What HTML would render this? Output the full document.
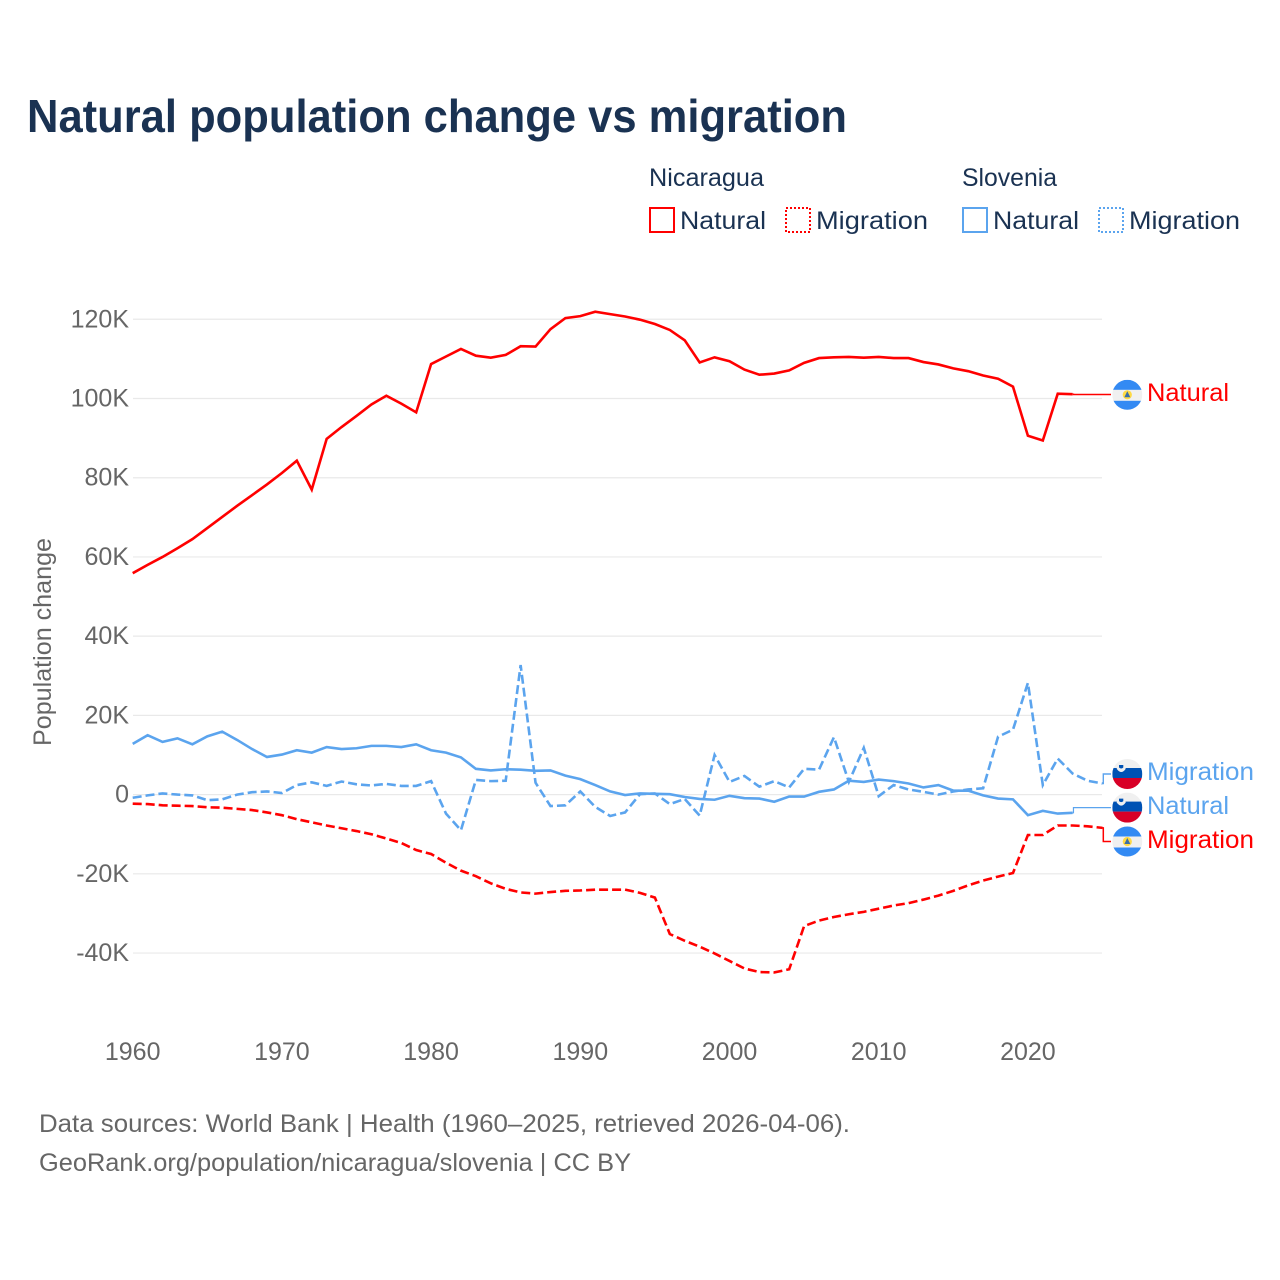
<!DOCTYPE html>
<html lang="en">
<head>
<meta charset="utf-8">
<title>Natural population change vs migration</title>
<style>
html,body{margin:0;padding:0;background:#fff;width:1280px;height:1280px;overflow:hidden}
svg{display:block}
text{font-family:"Liberation Sans",sans-serif}
</style>
</head>
<body>
<svg id="chart" xmlns="http://www.w3.org/2000/svg" width="1280" height="1280" viewBox="0 0 1280 1280">
  <defs>
    <clipPath id="flag-clip"><circle cx="0" cy="0" r="15"/></clipPath>
  </defs>
  <rect width="1280" height="1280" fill="#fff"/>
  <text x="27" y="132" font-size="46" font-weight="700" fill="#1a3252" textLength="820" lengthAdjust="spacingAndGlyphs">Natural population change vs migration</text>

  <g font-size="25" fill="#1a3252">
    <text x="649" y="186" textLength="115" lengthAdjust="spacingAndGlyphs">Nicaragua</text>
    <text x="962" y="186" textLength="95" lengthAdjust="spacingAndGlyphs">Slovenia</text>
    <rect x="650" y="208" width="24" height="24" fill="none" stroke="#ff0000" stroke-width="2"/>
    <text x="680" y="229" textLength="86" lengthAdjust="spacingAndGlyphs">Natural</text>
    <rect x="786" y="208" width="24" height="24" fill="none" stroke="#ff0000" stroke-width="2" stroke-dasharray="2 2"/>
    <text x="816" y="229" textLength="112" lengthAdjust="spacingAndGlyphs">Migration</text>
    <rect x="963" y="208" width="24" height="24" fill="none" stroke="#5ba4ee" stroke-width="2"/>
    <text x="993" y="229" textLength="86" lengthAdjust="spacingAndGlyphs">Natural</text>
    <rect x="1099" y="208" width="24" height="24" fill="none" stroke="#5ba4ee" stroke-width="2" stroke-dasharray="2 2"/>
    <text x="1129" y="229" textLength="111" lengthAdjust="spacingAndGlyphs">Migration</text>
  </g>

  <g id="grid"></g>
  <g id="yticks"></g>
  <g id="xticks"></g>
  <text transform="translate(51,746) rotate(-90)" x="0" y="0" font-size="25" fill="#666" textLength="208" lengthAdjust="spacingAndGlyphs">Population change</text>
  <g id="connectors"></g>
  <g id="series"></g>

  <g transform="translate(1127.3,394.8)">
    <g clip-path="url(#flag-clip)">
      <rect x="-15" y="-15" width="30" height="30" fill="#f0f0f0"/>
      <rect x="-15" y="-15" width="30" height="10" fill="#338af3"/>
      <rect x="-15" y="6" width="30" height="10" fill="#338af3"/>
      <circle cx="0" cy="0" r="4.6" fill="#ffda44"/>
      <path d="M-3 2.5 L0 -3.5 L3 2.5 Z" fill="#3a6ea8"/>
    </g>
  </g>
  <g transform="translate(1127.3,774)">
    <g clip-path="url(#flag-clip)">
      <rect x="-15" y="-15" width="30" height="30" fill="#f0f0f0"/>
      <rect x="-15" y="-6" width="30" height="10" fill="#0052b4"/>
      <rect x="-15" y="4" width="30" height="11" fill="#d80027"/>
      <path d="M-10.5 -9 H-1.7 V-5 Q-6 1 -10.5 -5 Z" fill="#f0f0f0"/>
      <path d="M-8.3 -9 H-4 V-6.5 Q-6 -4.5 -8.3 -6.5 Z" fill="#0052b4"/>
    </g>
  </g>
  <g transform="translate(1127.3,807.6)">
    <g clip-path="url(#flag-clip)">
      <rect x="-15" y="-15" width="30" height="30" fill="#f0f0f0"/>
      <rect x="-15" y="-6" width="30" height="10" fill="#0052b4"/>
      <rect x="-15" y="4" width="30" height="11" fill="#d80027"/>
      <path d="M-10.5 -9 H-1.7 V-5 Q-6 1 -10.5 -5 Z" fill="#f0f0f0"/>
      <path d="M-8.3 -9 H-4 V-6.5 Q-6 -4.5 -8.3 -6.5 Z" fill="#0052b4"/>
    </g>
  </g>
  <g transform="translate(1127.3,841.5)">
    <g clip-path="url(#flag-clip)">
      <rect x="-15" y="-15" width="30" height="30" fill="#f0f0f0"/>
      <rect x="-15" y="-15" width="30" height="10" fill="#338af3"/>
      <rect x="-15" y="6" width="30" height="10" fill="#338af3"/>
      <circle cx="0" cy="0" r="4.6" fill="#ffda44"/>
      <path d="M-3 2.5 L0 -3.5 L3 2.5 Z" fill="#3a6ea8"/>
    </g>
  </g>

  <g font-size="25">
    <text x="1147" y="401" fill="#ff0000" textLength="82" lengthAdjust="spacingAndGlyphs">Natural</text>
    <text x="1147" y="780" fill="#5ba4ee" textLength="107" lengthAdjust="spacingAndGlyphs">Migration</text>
    <text x="1147" y="814" fill="#5ba4ee" textLength="82" lengthAdjust="spacingAndGlyphs">Natural</text>
    <text x="1147" y="848" fill="#ff0000" textLength="107" lengthAdjust="spacingAndGlyphs">Migration</text>
  </g>

  <g font-size="25" fill="#666">
    <text x="39" y="1132" textLength="811" lengthAdjust="spacingAndGlyphs">Data sources: World Bank | Health (1960–2025, retrieved 2026-04-06).</text>
    <text x="39" y="1171" textLength="592" lengthAdjust="spacingAndGlyphs">GeoRank.org/population/nicaragua/slovenia | CC BY</text>
  </g>
</svg>
<script>
const years = [];
for (let yr = 1960; yr <= 2025; yr++) years.push(yr);
const yTickValues = [-40, -20, 0, 20, 40, 60, 80, 100, 120];
const yTickLabels = ["-40K", "-20K", "0", "20K", "40K", "60K", "80K", "100K", "120K"];
const xTickValues = [1960, 1970, 1980, 1990, 2000, 2010, 2020];
const xTickLabels = ["1960", "1970", "1980", "1990", "2000", "2010", "2020"];
const nicaraguaNatural = [55.9,58,60,62.2,64.5,67.3,70.1,72.9,75.6,78.3,81.2,84.3,77,89.8,92.8,95.6,98.5,100.7,98.7,96.5,108.7,110.6,112.5,110.8,110.3,111,113.2,113.1,117.5,120.3,120.8,121.9,121.3,120.7,119.9,118.8,117.3,114.7,109.1,110.4,109.4,107.3,106,106.3,107.1,109,110.2,110.4,110.5,110.3,110.5,110.2,110.2,109.2,108.6,107.6,106.9,105.8,105,103,90.6,89.4,101.2,101.1,null,null];
const nicaraguaMigration = [-2.3,-2.4,-2.7,-2.8,-2.9,-3.2,-3.3,-3.6,-3.9,-4.5,-5.2,-6.2,-7,-7.8,-8.5,-9.2,-10,-11.1,-12.2,-14,-15,-17.2,-19.2,-20.6,-22.4,-23.8,-24.7,-25,-24.6,-24.3,-24.2,-24,-24,-24,-24.8,-26,-35.2,-36.9,-38.4,-40.1,-42,-43.9,-44.8,-44.9,-44.1,-33.2,-31.8,-30.9,-30.2,-29.6,-28.8,-28,-27.4,-26.5,-25.5,-24.3,-22.9,-21.7,-20.7,-19.8,-10.2,-10.2,-7.8,-7.8,-8,-8.4];
const sloveniaNatural = [12.8,15,13.3,14.2,12.7,14.7,15.9,13.8,11.5,9.5,10.1,11.2,10.6,12,11.5,11.7,12.3,12.3,12,12.7,11.2,10.6,9.4,6.5,6.1,6.4,6.3,6,6.1,4.8,3.9,2.4,0.8,-0.1,0.3,0.2,0.1,-0.6,-1.1,-1.3,-0.3,-0.9,-1,-1.8,-0.5,-0.5,0.7,1.3,3.5,3.2,3.8,3.4,2.8,1.8,2.4,1,1,-0.2,-1,-1.2,-5.2,-4.1,-4.8,-4.6,null,null];
const sloveniaMigration = [-0.8,-0.2,0.3,0,-0.2,-1.4,-1.2,0,0.6,0.8,0.4,2.4,3.1,2.2,3.3,2.6,2.3,2.7,2.2,2.2,3.4,-4.8,-9,3.7,3.4,3.5,32.7,3,-2.9,-2.7,0.8,-3.1,-5.4,-4.5,0.1,0.3,-2.4,-1.1,-5.3,10,3.2,4.7,2,3.4,1.8,6.5,6.3,14.5,3.2,11.8,-0.4,2.4,1.3,0.7,0,0.8,1.3,1.6,14.6,16.4,28.2,2.4,9.1,5.3,3.5,2.8];

const NS = "http://www.w3.org/2000/svg";
const xScale = function (yr) { return 132.7 + (yr - 1960) * 14.92; };
const yScale = function (k) { return 794.6 - k * 3.961; };
const RED = "#ff0000";
const BLUE = "#5ba4ee";

function make(tag, attrs, parent) {
  const el = document.createElementNS(NS, tag);
  for (const key in attrs) el.setAttribute(key, attrs[key]);
  parent.appendChild(el);
  return el;
}

const gridGroup = document.getElementById("grid");
const yTickGroup = document.getElementById("yticks");
const xTickGroup = document.getElementById("xticks");
const connectorGroup = document.getElementById("connectors");
const seriesGroup = document.getElementById("series");

yTickValues.forEach(function (v, i) {
  const line = make("line", { x1: 133, x2: 1102, y1: yScale(v), y2: yScale(v), stroke: "#e9e9e9", "stroke-width": 1.2 }, gridGroup);
  
  
  const label = make("text", { x: 129, y: yScale(v) + 8, "text-anchor": "end", "font-size": 25, fill: "#666" }, yTickGroup);
  label.textContent = yTickLabels[i];
  
  
});

xTickValues.forEach(function (v, i) {
  const label = make("text", { x: xScale(v), y: 1060, "text-anchor": "middle", "font-size": 25, fill: "#666" }, xTickGroup);
  label.textContent = xTickLabels[i];
  
  
});

function linePath(values) {
  let d = "";
  values.forEach(function (v, i) {
    if (v === null) return;
    d += (d ? " L" : "M") + xScale(years[i]).toFixed(2) + " " + yScale(v).toFixed(2);
  });
  return d;
}

function lastPoint(values) {
  for (let i = values.length - 1; i >= 0; i--) {
    if (values[i] !== null) return { x: xScale(years[i]), y: yScale(values[i]) };
  }
  return null;
}

function drawConnector(values, flagY, color, width) {
  const p = lastPoint(values);
  const stepX = p.x + 0.8;
  const d = "M" + p.x + " " + p.y + " L" + stepX + " " + p.y + " L" + stepX + " " + flagY + " L1111 " + flagY;
  const c = make("path", { d: d, fill: "none", stroke: color, "stroke-width": width }, connectorGroup);
  
  
}
drawConnector(nicaraguaNatural, 394.5, RED, 1.4);
drawConnector(sloveniaMigration, 774, BLUE, 1.4);
drawConnector(sloveniaNatural, 807.6, BLUE, 1.2);
drawConnector(nicaraguaMigration, 841.5, RED, 1.5);

const commonLine = { fill: "none", "stroke-width": 2.6, "stroke-linejoin": "miter", "stroke-miterlimit": 6 };

const l1 = make("path", Object.assign({ d: linePath(nicaraguaNatural), stroke: RED }, commonLine), seriesGroup);



const l2 = make("path", Object.assign({ d: linePath(nicaraguaMigration), stroke: RED, "stroke-dasharray": "9 4" }, commonLine), seriesGroup);



const l3 = make("path", Object.assign({ d: linePath(sloveniaMigration), stroke: BLUE, "stroke-dasharray": "9 4" }, commonLine), seriesGroup);



const l4 = make("path", Object.assign({ d: linePath(sloveniaNatural), stroke: BLUE }, commonLine), seriesGroup);


</script>
</body>
</html>
